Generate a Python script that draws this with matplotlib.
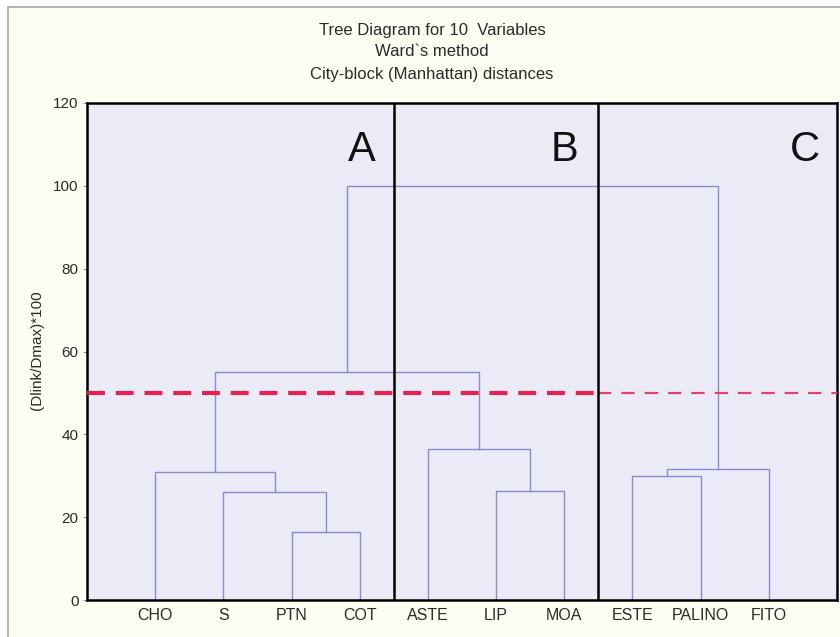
import matplotlib
matplotlib.use("Agg")
import matplotlib.pyplot as plt
from matplotlib.patches import Rectangle

# ---- data ----
leaf_labels = ["CHO", "S", "PTN", "COT", "ASTE", "LIP", "MOA", "ESTE", "PALINO", "FITO"]
# merges (scipy style): leaves are 0..9, merge k creates cluster 10+k
merge_left = [2, 5, 7, 1, 0, 4, 12, 14, 16]
merge_right = [3, 6, 8, 10, 13, 11, 9, 15, 17]
merge_height = [16.3, 26.3, 30.0, 26.1, 30.8, 36.4, 31.6, 55.0, 100.0]
cut_level = 50
group_names = ["A", "B", "C"]
group_bounds = [4.5, 7.5]
yticks = [0, 20, 40, 60, 80, 100, 120]
title_lines = ["Tree Diagram for 10  Variables", "Ward`s method", "City-block (Manhattan) distances"]
ylabel = "(Dlink/Dmax)*100"

# ---- figure ----
W, H, DPI = 840, 637, 100
fig = plt.figure(figsize=(W / DPI, H / DPI), dpi=DPI)
fig.patch.set_facecolor("white")
fig.patches.append(Rectangle((8 / W, -0.02), 1.0, 1 - 7 / H + 0.02, transform=fig.transFigure,
                             facecolor="#fdfdf2", edgecolor="#a8a8a8", lw=1.2, zorder=-5))

ax = fig.add_axes([87 / W, 37 / H, (837 - 87) / W, (600 - 103) / H])
ax.set_zorder(1)
ax.set_facecolor("#ebebf8")

# positions
n = len(leaf_labels)
xpos = {i: i + 1.0 for i in range(n)}
ypos = {i: 0.0 for i in range(n)}
lc = "#8a8ad4"
for k, (l, r, h) in enumerate(zip(merge_left, merge_right, merge_height)):
    xl, xr = xpos[l], xpos[r]
    ax.plot([xl, xl, xr, xr], [ypos[l], h, h, ypos[r]], color=lc, lw=1.0, zorder=2)
    cid = n + k
    xpos[cid] = (xl + xr) / 2
    ypos[cid] = h

# cut line
ax.plot([0, group_bounds[1]], [cut_level, cut_level], color="#e8204f", lw=3.0,
        dashes=(4.3, 2.6), zorder=3)
ax.plot([group_bounds[1], n + 1], [cut_level, cut_level], color="#e0406a", lw=1.6,
        dashes=(6, 4.5), zorder=3)

# group separators
for gb in group_bounds:
    ax.axvline(gb, color="black", lw=1.8, zorder=4)

# group letters
letter_x = [4.03, 7.0, 10.53]
for name, lx in zip(group_names, letter_x):
    ax.text(lx, 108.6, name, fontsize=30, ha="center", va="center", color="#111111",
            family="Liberation Sans", zorder=5)

ax.set_xlim(0, n + 1)
ax.set_ylim(0, 120)
ax.set_xticks([xpos[i] for i in range(n)])
ax.set_xticklabels(leaf_labels, fontsize=11.5, family="Liberation Sans", color="#2a2a2a")
ax.tick_params(axis="x", length=0, pad=6)
ax.set_yticks(yticks)
ax.set_yticklabels([str(v) for v in yticks], fontsize=11, family="Liberation Sans", color="#2a2a2a")
ax.tick_params(axis="y", length=3, width=0.8, color="#999999", pad=3)
for s in ax.spines.values():
    s.set_linewidth(1.8)
    s.set_color("black")

fig.text(37 / W, 1 - 350 / H, ylabel, rotation=90, ha="center", va="center",
         fontsize=11, family="Liberation Sans", color="#2a2a2a")
for i, t in enumerate(title_lines):
    fig.text(432 / W, 1 - (30 + 22 * i) / H, t, ha="center", va="center",
             fontsize=12, family="Liberation Sans", color="#2a2a2a")

fig.savefig("out.png", dpi=DPI, facecolor=fig.get_facecolor())
